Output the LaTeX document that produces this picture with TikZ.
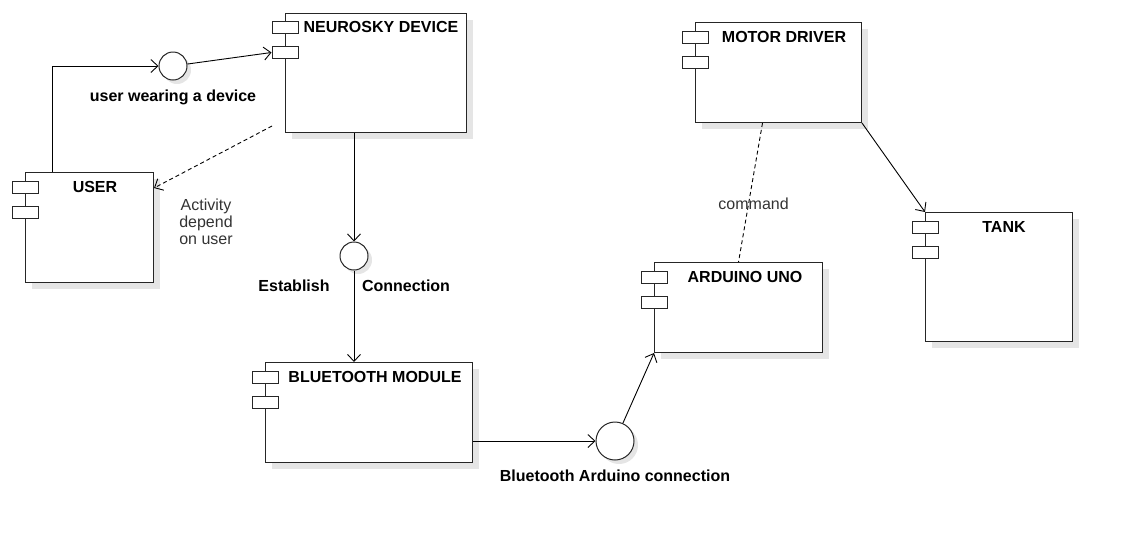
\documentclass[tikz,border=0pt]{standalone}
\usepackage{fontspec}
\setmainfont{Liberation Sans}
\usetikzlibrary{arrows.meta,shadows,calc}
\begin{document}
\begin{tikzpicture}[x=1pt,y=-1pt,
  comp/.style={draw=black!85,line width=1pt,fill=white,anchor=north west,inner sep=0pt,
    drop shadow={shadow xshift=6pt,shadow yshift=-6pt,fill=black!10,opacity=1}},
  port/.style={draw=black!85,line width=1pt,fill=white,minimum width=26pt,minimum height=12pt,inner sep=0pt},
  iface/.style={circle,draw=black!85,line width=1pt,fill=white,inner sep=0pt,
    drop shadow={shadow xshift=4pt,shadow yshift=-4pt,fill=black!10,opacity=1}},
  title/.style={font=\fontsize{16}{18}\selectfont\bfseries,inner sep=0pt},
  lbl/.style={font=\fontsize{16}{18}\selectfont\bfseries,inner sep=0pt},
  note/.style={font=\fontsize{16}{17}\selectfont,text=black!80,inner sep=0pt,align=center},
  conn/.style={line width=0.9pt,draw=black,-{Straight Barb[length=7pt,width=13pt,line width=0.9pt]}},
  dep/.style={line width=0.9pt,draw=black,dashed,dash pattern=on 4pt off 3pt}
]
\useasboundingbox (0,0) rectangle (1121,542);

% components
\node[comp,minimum width=128pt,minimum height=110pt] (user) at (25,172) {};
\node[comp,minimum width=181pt,minimum height=119pt] (neuro) at (285,13) {};
\node[comp,minimum width=207pt,minimum height=100pt] (bt) at (265,362) {};
\node[comp,minimum width=168pt,minimum height=90pt] (ard) at (654,262) {};
\node[comp,minimum width=166pt,minimum height=100pt] (motor) at (695,22) {};
\node[comp,minimum width=147pt,minimum height=129pt] (tank) at (925,212) {};

% ports
\node[port] (up1) at ([yshift=-15.5pt]user.north west) {};
\node[port] (up2) at ([yshift=-40.5pt]user.north west) {};
\node[port] (np1) at ([yshift=-14.5pt]neuro.north west) {};
\node[port] (np2) at ([yshift=-39.5pt]neuro.north west) {};
\node[port] (bp1) at ([yshift=-15.5pt]bt.north west) {};
\node[port] (bp2) at ([yshift=-40pt]bt.north west) {};
\node[port] (ap1) at ([yshift=-15.5pt]ard.north west) {};
\node[port] (ap2) at ([yshift=-40pt]ard.north west) {};
\node[port] (mp1) at ([yshift=-15.5pt]motor.north west) {};
\node[port] (mp2) at ([yshift=-40.5pt]motor.north west) {};
\node[port] (tp1) at ([yshift=-15pt]tank.north west) {};
\node[port] (tp2) at ([yshift=-40pt]tank.north west) {};

% titles
\node[title] (tuser) at (95,187) {USER};
\node[title] (tneuro) at (381,27) {NEUROSKY DEVICE};
\node[title] (tbt) at (375,377) {BLUETOOTH MODULE};
\node[title] (tard) at (745,277) {ARDUINO UNO};
\node[title] (tmotor) at (784,37) {MOTOR DRIVER};
\node[title] (ttank) at (1004,227) {TANK};

% interfaces
\node[iface,minimum size=28pt] (c1) at (173,66) {};
\node[iface,minimum size=28pt] (c2) at (354,256) {};
\node[iface,minimum size=38pt] (c3) at (615,441) {};

% labels
\node[lbl] (l1) at (173,97) {user wearing a device};
\node[note] (l2) at (206,222) {Activity\\depend\\on user};
\node[lbl] (l3) at (294,286) {Establish};
\node[lbl] (l4) at (406,286) {Connection};
\node[lbl] (l5) at (615,476) {Bluetooth Arduino connection};

% connectors
\draw[conn] ([xshift=27pt]user.north west) |- (c1.west);
\draw[conn] (c1) -- (np2.west);
\draw[dep,-{Straight Barb[length=7pt,width=13pt,line width=0.9pt]}] ([xshift=-13pt,yshift=7pt]neuro.south west) -- ([yshift=-16pt]user.north east);
\draw[conn] (c2 |- neuro.south) -- (c2.north);
\draw[conn] (c2.south) -- (c2 |- bt.north);
\draw[conn] (bt.east |- c3) -- (c3.west);
\draw[conn] (c3) -- (ard.south west);
\draw[dep] ([xshift=-16pt]motor.south) -- node[pos=0.58,note,xshift=5pt] (l6) {command} (ard.north);
\draw[conn] (motor.south east) -- (tank.north west);
\end{tikzpicture}
\end{document}
